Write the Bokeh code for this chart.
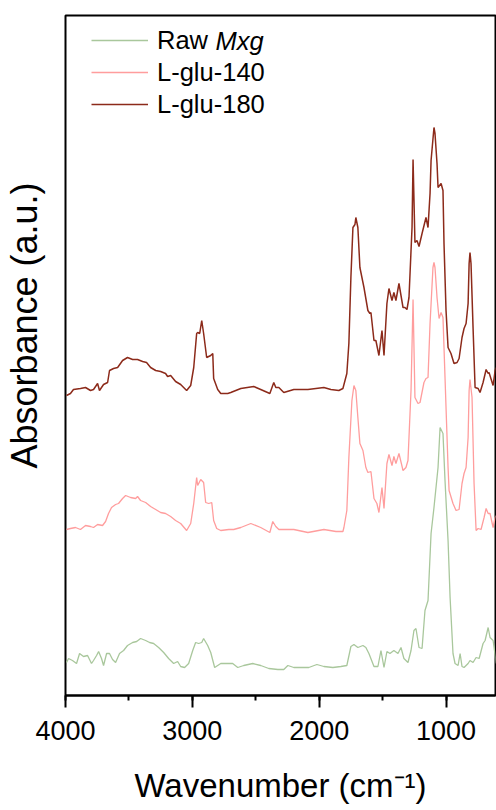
from bokeh.plotting import figure
from bokeh.models import Range1d, Legend, LegendItem, Label, SingleIntervalTicker, FixedTicker
from bokeh.embed import file_html
from bokeh.resources import INLINE

# ---------------- data ----------------
series_names = ["Raw", "L-glu-140", "L-glu-180"]

wn_raw = [3992, 3976, 3945, 3913, 3889, 3858, 3826, 3795, 3779, 3755,
          3739, 3716, 3700, 3676, 3653, 3629, 3605, 3574, 3542, 3511,
          3471, 3439, 3408, 3368, 3337, 3305, 3266, 3226, 3187, 3147,
          3116, 3092, 3061, 3029, 2997, 2974, 2950, 2926, 2911, 2879,
          2855, 2824, 2776, 2721, 2682, 2642, 2595, 2524, 2461, 2397,
          2326, 2279, 2247, 2200, 2129, 2082, 2018, 1963, 1892, 1829,
          1782, 1750, 1726, 1695, 1655, 1632, 1608, 1568, 1537, 1513,
          1489, 1466, 1442, 1411, 1379, 1355, 1332, 1300, 1276, 1253,
          1237, 1213, 1189, 1166, 1142, 1118, 1095, 1063, 1047, 1024,
          1008, 984, 968, 945, 929, 905, 889, 874, 858, 826,
          811, 787, 763, 739, 708, 692, 668, 653, 629, 621,
          605]
abs_raw = [0.26, 0.30, 0.28, 0.25, 0.35, 0.32, 0.33, 0.25, 0.28, 0.33,
           0.37, 0.30, 0.23, 0.35, 0.35, 0.29, 0.26, 0.35, 0.38, 0.43,
           0.46, 0.47, 0.50, 0.48, 0.46, 0.45, 0.41, 0.36, 0.30, 0.25,
           0.27, 0.22, 0.21, 0.25, 0.38, 0.46, 0.45, 0.46, 0.50, 0.43,
           0.36, 0.21, 0.25, 0.25, 0.25, 0.21, 0.23, 0.25, 0.23, 0.20,
           0.19, 0.19, 0.23, 0.21, 0.21, 0.21, 0.24, 0.22, 0.21, 0.22,
           0.23, 0.42, 0.44, 0.41, 0.43, 0.41, 0.35, 0.22, 0.22, 0.38,
           0.21, 0.37, 0.35, 0.38, 0.35, 0.41, 0.30, 0.26, 0.38, 0.58,
           0.60, 0.41, 0.40, 0.78, 0.88, 1.55, 1.81, 2.21, 2.61, 2.55,
           2.08, 1.48, 0.91, 0.35, 0.25, 0.23, 0.35, 0.22, 0.21, 0.25,
           0.28, 0.26, 0.31, 0.30, 0.45, 0.48, 0.61, 0.51, 0.48, 0.41,
           0.25]

wn_140 = [3992, 3961, 3921, 3882, 3842, 3803, 3779, 3747, 3708, 3684,
          3661, 3637, 3605, 3582, 3550, 3526, 3487, 3447, 3432, 3408,
          3368, 3329, 3289, 3250, 3211, 3171, 3132, 3092, 3045, 3013,
          2989, 2966, 2958, 2934, 2911, 2895, 2871, 2847, 2832, 2808,
          2776, 2713, 2674, 2618, 2539, 2461, 2389, 2366, 2342, 2318,
          2200, 2089, 1963, 1868, 1813, 1805, 1782, 1766, 1742, 1726,
          1711, 1695, 1679, 1655, 1632, 1616, 1592, 1568, 1545, 1529,
          1505, 1489, 1466, 1450, 1426, 1411, 1395, 1371, 1339, 1316,
          1300, 1276, 1260, 1245, 1221, 1205, 1174, 1158, 1142, 1126,
          1103, 1095, 1087, 1071, 1055, 1039, 1024, 1008, 984, 976,
          945, 921, 897, 874, 858, 842, 826, 818, 811, 795,
          779, 763, 747, 724, 700, 684, 668, 653, 629, 613,
          605]
abs_140 = [1.59, 1.60, 1.61, 1.59, 1.63, 1.62, 1.61, 1.64, 1.63, 1.67,
           1.75, 1.81, 1.84, 1.85, 1.90, 1.93, 1.91, 1.90, 1.92, 1.88,
           1.86, 1.82, 1.79, 1.76, 1.75, 1.72, 1.68, 1.65, 1.58, 1.65,
           1.85, 2.11, 2.03, 2.09, 2.06, 1.86, 1.85, 1.86, 1.68, 1.60,
           1.58, 1.59, 1.59, 1.61, 1.65, 1.61, 1.56, 1.67, 1.62, 1.59,
           1.59, 1.56, 1.59, 1.57, 1.57, 1.61, 1.78, 2.31, 2.88, 3.03,
           2.98, 2.71, 2.45, 2.38, 2.21, 2.16, 2.17, 1.90, 1.85, 1.76,
           2.01, 1.80, 2.25, 2.34, 2.23, 2.32, 2.25, 2.35, 2.18, 2.21,
           2.28, 2.98, 3.89, 2.91, 2.85, 2.86, 3.06, 3.10, 3.11, 3.65,
           4.21, 4.26, 4.21, 3.91, 3.70, 3.76, 3.71, 3.11, 2.21, 1.98,
           1.85, 1.78, 1.79, 2.05, 2.15, 2.21, 2.51, 2.98, 3.09, 2.91,
           2.05, 1.58, 1.60, 1.59, 1.71, 1.80, 1.75, 1.75, 1.61, 1.71,
           1.73]

wn_180 = [3992, 3961, 3937, 3882, 3842, 3803, 3779, 3747, 3732, 3700,
          3668, 3653, 3621, 3589, 3550, 3511, 3471, 3432, 3392, 3361,
          3329, 3289, 3250, 3211, 3195, 3171, 3132, 3092, 3045, 3013,
          2989, 2966, 2958, 2942, 2926, 2911, 2887, 2855, 2839, 2832,
          2800, 2776, 2721, 2697, 2618, 2516, 2461, 2389, 2358, 2342,
          2318, 2279, 2200, 2089, 1963, 1908, 1845, 1813, 1782, 1766,
          1750, 1734, 1718, 1711, 1695, 1679, 1655, 1647, 1616, 1600,
          1592, 1568, 1553, 1529, 1505, 1489, 1466, 1450, 1426, 1411,
          1395, 1371, 1339, 1324, 1308, 1292, 1268, 1260, 1245, 1229,
          1213, 1189, 1158, 1142, 1126, 1118, 1095, 1087, 1071, 1063,
          1039, 1024, 1016, 1000, 984, 961, 937, 913, 897, 874,
          858, 842, 826, 818, 811, 803, 787, 771, 747, 732,
          708, 684, 668, 661, 629, 613, 605]
abs_180 = [2.93, 2.95, 2.99, 3.00, 3.01, 2.98, 2.99, 3.05, 2.98, 3.04,
           3.06, 3.18, 3.20, 3.21, 3.28, 3.31, 3.29, 3.29, 3.27, 3.26,
           3.21, 3.18, 3.17, 3.15, 3.12, 3.13, 3.07, 3.04, 2.98, 3.03,
           3.21, 3.55, 3.56, 3.55, 3.68, 3.55, 3.31, 3.33, 3.35, 3.10,
           2.99, 2.95, 2.95, 2.96, 3.00, 3.02, 2.99, 2.95, 3.06, 3.01,
           3.01, 2.96, 2.99, 2.99, 3.01, 2.99, 2.98, 3.00, 3.15, 3.45,
           4.11, 4.61, 4.64, 4.71, 4.61, 4.21, 4.06, 4.01, 3.78, 3.75,
           3.76, 3.48, 3.48, 3.33, 3.58, 3.33, 3.85, 4.00, 3.88, 3.96,
           3.88, 4.05, 3.81, 3.81, 3.79, 3.91, 4.61, 5.29, 4.46, 4.48,
           4.42, 4.55, 4.71, 4.61, 4.95, 5.28, 5.61, 5.55, 5.25, 5.01,
           5.05, 4.98, 4.45, 3.78, 3.41, 3.35, 3.25, 3.26, 3.30, 3.51,
           3.60, 3.65, 3.85, 4.25, 4.36, 4.25, 3.61, 3.01, 3.00, 2.96,
           3.06, 3.19, 3.15, 3.16, 3.03, 3.18, 3.21]

x_major_ticks_interval = 1000
x_title = "Wavenumber (cm\u207b\u00b9)"
# leading no-break spaces shift the rotated title upwards, as in the reference
y_title = "\u00a0" * 6 + "Absorbance (a.u.)"

# ---------------- styling ----------------
FONT = "Liberation Sans"
GREEN = "#a9c79c"
PINK = "#ff9d9d"
DARK = "#8c2a1a"

p = figure(frame_width=430, frame_height=680,
           min_border_left=65, min_border_right=1,
           min_border_top=15, min_border_bottom=115,
           x_range=Range1d(4000, 610), y_range=Range1d(-0.07, 6.73),
           output_backend="svg", toolbar_location=None)

p.background_fill_color = "white"
p.border_fill_color = "white"
p.outline_line_color = "black"
p.outline_line_width = 2
p.grid.visible = False

# y axis: only the title, no ticks
ya = p.yaxis[0]
ya.ticker = FixedTicker(ticks=[])
ya.axis_line_color = None
ya.major_tick_line_color = None
ya.minor_tick_line_color = None
ya.major_tick_out = 0
ya.major_label_standoff = 0
ya.axis_label = y_title
ya.axis_label_text_font = FONT
ya.axis_label_text_font_size = "36px"
ya.axis_label_text_font_style = "normal"
ya.axis_label_text_color = "black"
ya.axis_label_standoff = 21

xa = p.xaxis[0]
xa.ticker = SingleIntervalTicker(interval=x_major_ticks_interval, num_minor_ticks=2)
xa.axis_line_width = 2
xa.axis_line_color = "black"
xa.major_tick_line_width = 2
xa.major_tick_in = 0
xa.major_tick_out = 12
xa.minor_tick_line_width = 2
xa.minor_tick_in = 0
xa.minor_tick_out = 5
xa.major_label_text_font = FONT
xa.major_label_text_font_size = "27px"
xa.major_label_text_color = "black"
xa.major_label_standoff = 13
xa.axis_label = x_title
xa.axis_label_text_font = FONT
xa.axis_label_text_font_size = "33px"
xa.axis_label_text_font_style = "normal"
xa.axis_label_text_color = "black"
xa.axis_label_standoff = 24

r_raw = p.line(wn_raw, abs_raw, line_color=GREEN, line_width=1.3)
r_140 = p.line(wn_140, abs_140, line_color=PINK, line_width=1.3)
r_180 = p.line(wn_180, abs_180, line_color=DARK, line_width=1.5)

legend = Legend(items=[LegendItem(label=series_names[0], renderers=[r_raw]),
                       LegendItem(label=series_names[1], renderers=[r_140]),
                       LegendItem(label=series_names[2], renderers=[r_180])],
                location=(26, 575), padding=0, margin=0, spacing=0,
                border_line_color=None, background_fill_alpha=0,
                glyph_width=57, glyph_height=32, label_height=32,
                label_standoff=9, label_text_font=FONT,
                label_text_font_size="25.5px", label_text_color="black")
p.add_layout(legend)

p.add_layout(Label(x=150, y=655, x_units="screen", y_units="screen", text="Mxg",
                   text_font=FONT, text_font_style="italic", text_font_size="25.5px",
                   text_baseline="middle", text_align="left", text_color="black"))

open("out.html", "w").write(file_html(p, INLINE))
